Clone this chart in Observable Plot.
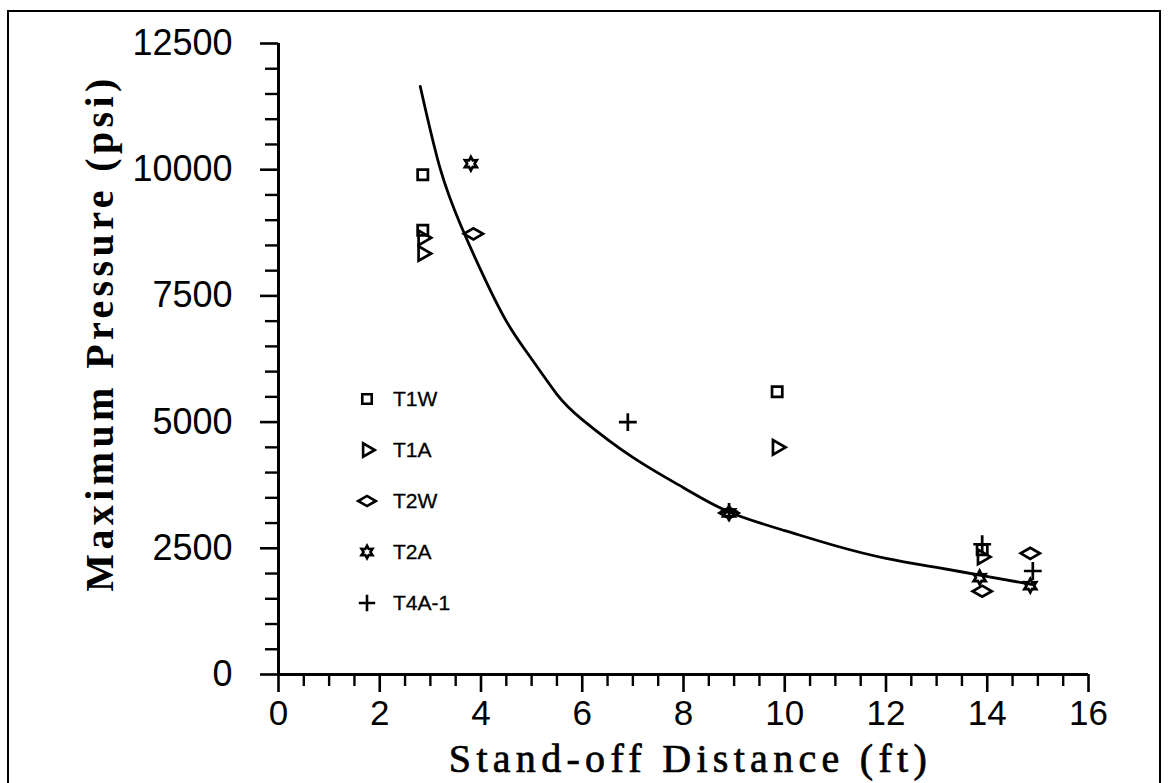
<!DOCTYPE html>
<html>
<head>
<meta charset="utf-8">
<script src="https://cdn.jsdelivr.net/npm/d3@7"></script>
<script src="https://cdn.jsdelivr.net/npm/@observablehq/plot@0.6"></script>
<style>
  html, body { margin: 0; padding: 0; background: #fff; }
  #wrap { position: relative; width: 1173px; height: 783px; overflow: hidden; background: #fff; }
  #frame { position: absolute; left: 7px; top: 10px; width: 1150px; height: 800px;
           border-left: 2px solid #000; border-top: 2px solid #000; border-right: 2px solid #000; }
  #legend { position: absolute; left: 352px; top: 384px; font-family: "Liberation Sans", Arial, sans-serif; font-size: 21px; }
  .item { position: absolute; left: 0; height: 30px; display: flex; align-items: center; white-space: nowrap; }
  .item svg { width: 30px; height: 30px; overflow: visible; }
  .item span { margin-left: 11px; -webkit-text-stroke: 0.3px #000; }
  #chart { position: absolute; left: 0; top: 0; }
</style>
</head>
<body>
<div id="wrap">
  <div id="frame"></div>
  <div id="chart"></div>
  <div id="legend"></div>
</div>
<script>
// ---- data ----
const seriesNames = ["T1W", "T1A", "T2W", "T2A", "T4A-1"];

const t1wX = [2.85, 2.85, 9.85, 13.9];
const t1wY = [9900, 8800, 5600, 2470];

const t1aX = [2.85, 2.85, 9.85, 13.9];
const t1aY = [8650, 8340, 4500, 2330];

const t2wX = [3.85, 8.9, 13.9, 14.85];
const t2wY = [8730, 3200, 1650, 2400];

const t2aX = [3.8, 8.9, 13.85, 14.85];
const t2aY = [10120, 3200, 1920, 1760];

const t4aX = [6.9, 8.9, 13.9, 14.9];
const t4aY = [5000, 3220, 2580, 2050];

// fitted curve
const curveX = [2.8, 3.2, 3.6, 4.0, 4.5, 5.0, 5.5, 6.0, 7.0, 8.0, 8.9, 10.0, 11.0, 12.0, 13.0, 13.9, 14.9];
const curveY = [11650, 10000, 8900, 8000, 7000, 6250, 5550, 5050, 4300, 3700, 3220, 2850, 2550, 2300, 2120, 1960, 1780];

const xMajor = [0, 2, 4, 6, 8, 10, 12, 14, 16];
const yMajor = [0, 2500, 5000, 7500, 10000, 12500];
const xMinor = d3.range(0, 16.01, 0.5).filter(v => !xMajor.includes(v));
const yMinor = d3.range(0, 12501, 500).filter(v => !yMajor.includes(v));

const xTitle = "Stand-off Distance (ft)";
const yTitle = "Maximum Pressure (psi)";

// ---- symbols ----
const star6 = {
  draw(ctx, size) {
    const R = Math.sqrt(size) * 0.62, r = R * 0.55;
    for (let i = 0; i < 12; i++) {
      const a = -Math.PI / 2 + i * Math.PI / 6;
      const rr = i % 2 === 0 ? R : r;
      const px = rr * Math.cos(a), py = rr * Math.sin(a);
      if (i === 0) ctx.moveTo(px, py); else ctx.lineTo(px, py);
    }
    ctx.closePath();
  }
};

const series = [
  {name: "T1W", xs: t1wX, ys: t1wY, symbol: "square", r: 5.8, rotate: 0},
  {name: "T1A", xs: t1aX, ys: t1aY, symbol: "triangle", r: 5.4, rotate: 90},
  {name: "T2W", xs: t2wX, ys: t2wY, symbol: "diamond", r: 5.8, rotate: 90},
  {name: "T2A", xs: t2aX, ys: t2aY, symbol: star6, r: 6.2, rotate: 0},
  {name: "T4A-1", xs: t4aX, ys: t4aY, symbol: "plus", r: 5.8, rotate: 0}
];

const curve = curveX.map((x, i) => ({x, y: curveY[i]}));

const tickFont = "Liberation Sans, Arial, sans-serif";
const titleFont = "Liberation Serif, Times New Roman, serif";

const dotMarks = series.map(s => Plot.dot(s.xs.map((x, i) => ({x, y: s.ys[i]})), {
  x: "x", y: "y", symbol: s.symbol, r: s.r, rotate: s.rotate,
  stroke: "#000", strokeWidth: 2.7, fill: "none"
}));

const chart = Plot.plot({
  width: 1173,
  height: 783,
  marginLeft: 278,
  marginRight: 85,
  marginTop: 43,
  marginBottom: 109,
  x: {domain: [0, 16]},
  y: {domain: [0, 12500]},
  style: {background: "transparent", color: "#000"},
  marks: [
    Plot.axisX({ticks: xMinor, tickSize: 12, tickFormat: () => "", strokeWidth: 2.4, label: null}),
    Plot.axisX({ticks: xMajor, tickSize: 18, tickPadding: 8, strokeWidth: 2.6, label: null,
      fontSize: 35, fontFamily: tickFont, tickFormat: d => String(d)}),
    Plot.axisY({ticks: yMinor, tickSize: 13, tickFormat: () => "", strokeWidth: 2.4, label: null}),
    Plot.axisY({ticks: yMajor, tickSize: 18, tickPadding: 28, strokeWidth: 2.6, label: null,
      fontSize: 36, fontFamily: tickFont, tickFormat: d => String(d)}),
    Plot.ruleY([0], {stroke: "#000", strokeWidth: 3}),
    Plot.ruleX([0], {stroke: "#000", strokeWidth: 3}),
    Plot.line(curve, {x: "x", y: "y", curve: "natural", stroke: "#000", strokeWidth: 2.8}),
    ...dotMarks,
    Plot.text([xTitle], {frameAnchor: "bottom", dy: 85, dx: 7,
      fontFamily: titleFont, fontSize: 40, lineAnchor: "middle", textAnchor: "middle", fill: "#000"}),
    Plot.text([yTitle], {frameAnchor: "left", dx: -178, dy: -26, rotate: -90,
      fontFamily: titleFont, fontSize: 40, fontWeight: "bold", lineAnchor: "middle", textAnchor: "middle", fill: "#000"})
  ]
});
document.getElementById("chart").appendChild(chart);

// letter spacing to mimic the typewriter-like titles
d3.select(chart).selectAll("text").each(function() {
  const t = d3.select(this).text();
  if (t === xTitle) d3.select(this).style("letter-spacing", "5.3px").style("stroke", "#000").style("stroke-width", "0.7px");
  if (t === yTitle) d3.select(this).style("letter-spacing", "4.4px");
});

// ---- legend ----
const legend = d3.select("#legend");
const symMap = {"square": d3.symbolSquare, "triangle": d3.symbolTriangle, "diamond": d3.symbolDiamond, "plus": d3.symbolPlus};
series.forEach((s, i) => {
  const item = legend.append("div").attr("class", "item").style("top", (i * 51) + "px");
  const svg = item.append("svg");
  const type = typeof s.symbol === "string" ? symMap[s.symbol] : s.symbol;
  svg.append("path")
    .attr("d", d3.symbol(type, Math.PI * s.r * s.r * 0.85)())
    .attr("transform", `translate(15,15) rotate(${s.rotate})`)
    .attr("fill", "none").attr("stroke", "#000").attr("stroke-width", 2.6);
  item.append("span").text(s.name);
});
</script>
</body>
</html>
